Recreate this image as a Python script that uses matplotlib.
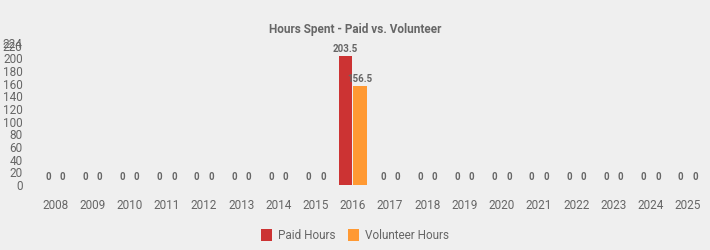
import matplotlib.pyplot as plt
import numpy as np

years = [str(y) for y in range(2008, 2026)]
paid = [0, 0, 0, 0, 0, 0, 0, 0, 203.5, 0, 0, 0, 0, 0, 0, 0, 0, 0]
volunteer = [0, 0, 0, 0, 0, 0, 0, 0, 156.5, 0, 0, 0, 0, 0, 0, 0, 0, 0]
yticks = [0, 20, 40, 60, 80, 100, 120, 140, 160, 180, 200, 220, 224]

plt.rcParams['font.family'] = ['Roboto', 'DejaVu Sans']
bg = "#efefef"
txt = "#666666"

fig = plt.figure(figsize=(7.1, 2.5), dpi=100, facecolor=bg)
ax = fig.add_axes([0.0514, 0.26, 0.9436, 0.568], facecolor=bg)

x = np.arange(len(years))
w = 0.37
b1 = ax.bar(x - w / 2 - 0.01, paid, w, color="#cc3333", label="Paid Hours")
b2 = ax.bar(x + w / 2 + 0.01, volunteer, w, color="#ff9933", label="Volunteer Hours")

for bars, vals in [(b1, paid), (b2, volunteer)]:
    for r, v in zip(bars, vals):
        lab = "0" if v == 0 else f"{v:g}"
        yy = 4 if v == 0 else v + 3
        ax.text(r.get_x() + r.get_width() / 2, yy, lab, ha="center", va="bottom",
                fontsize=7, fontweight="bold", color=txt)

ax.set_xlim(-0.5, len(years) - 0.5)
ax.set_ylim(0, 224)
ax.set_xticks(x)
ax.set_xticklabels(years)
ax.set_yticks(yticks)
ax.set_yticklabels([str(t) for t in yticks])
ax.tick_params(length=0, labelsize=8.5, labelcolor=txt)
ax.tick_params(axis="x", pad=10)
ax.tick_params(axis="y", pad=10)
for s in ax.spines.values():
    s.set_visible(False)

fig.suptitle("Hours Spent - Paid vs. Volunteer", y=0.91, fontsize=8.5,
             fontweight="bold", color=txt)
fig.legend(handles=[b1, b2], loc="lower center", bbox_to_anchor=(0.5, -0.01),
           ncol=2, frameon=False, fontsize=8.5, labelcolor=txt,
           handlelength=1.0, handleheight=1.2, handletextpad=0.5, columnspacing=1.0)

plt.savefig("out.png", dpi=100, facecolor=bg)
